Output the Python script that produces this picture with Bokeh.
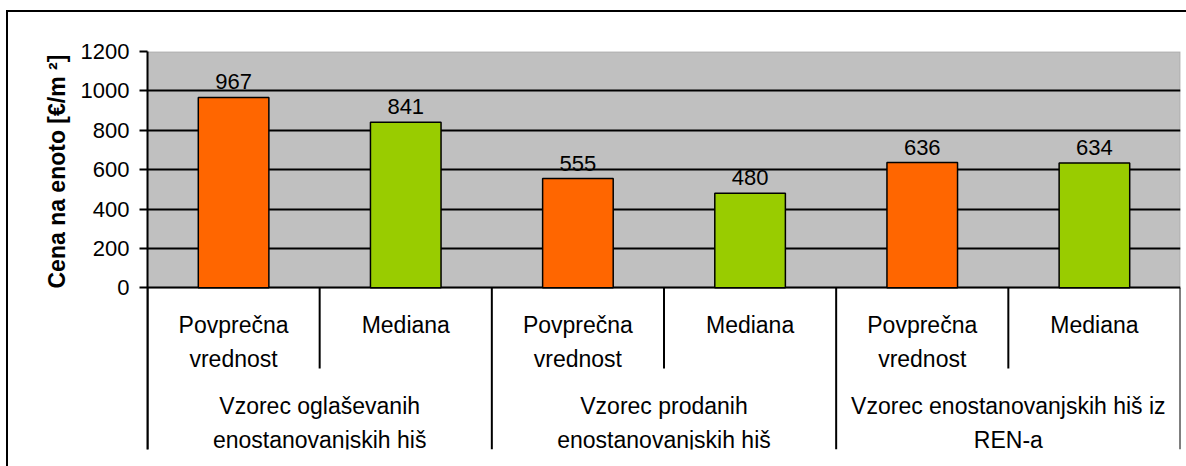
from bokeh.plotting import figure
from bokeh.models import FactorRange, Range1d, FixedTicker, ColumnDataSource, Title, BoxAnnotation, InlineStyleSheet
from bokeh.transform import factor_cmap
from bokeh.core.properties import value
from bokeh.embed import file_html
from bokeh.resources import INLINE

# ---- data ----
groups = [
    "Vzorec oglaševanih\nenostanovanjskih hiš",
    "Vzorec prodanih\nenostanovanjskih hiš",
    "Vzorec enostanovanjskih hiš iz\nREN-a",
]
measures = ["Povprečna\nvrednost", "Mediana"]
values = [967, 841, 555, 480, 636, 634]
bar_colors = ["#FF6600", "#99CC00"]
y_ticks = [0, 200, 400, 600, 800, 1000, 1200]
y_label = "Cena na enoto [€/m ²]"

FONT = "Liberation Sans"
factors = [(g, m) for g in groups for m in measures]

src = ColumnDataSource(data=dict(
    x=factors,
    values=values,
    labels=[str(v) for v in values],
))

y_top = y_ticks[-1]
y_bottom = -821          # extra room below zero for the category labels
sub_sep_bottom = -410

p = figure(
    width=1186, height=466,
    x_range=FactorRange(*factors, group_padding=0, factor_padding=0, range_padding=0),
    y_range=Range1d(y_bottom, y_top),
    output_backend="svg", toolbar_location=None,
    min_border_left=147, min_border_right=6, min_border_top=51, min_border_bottom=17,
)
p.title.visible = False
p.outline_line_color = None
p.background_fill_color = "white"
p.border_fill_color = "white"

# outer chart border (runs off the right and bottom edges, as in the original)
p.stylesheets = [InlineStyleSheet(css="""
:host { position: relative; overflow: hidden; }
:host::after {
  content: "";
  position: absolute;
  left: 6px; top: 10px; right: -10px; bottom: -10px;
  border: 2px solid black;
  pointer-events: none;
  z-index: 10;
}
""")]

# gray plot area
p.add_layout(BoxAnnotation(bottom=0, top=y_top, fill_color="#C0C0C0", fill_alpha=1.0,
                           line_color="#808080", line_width=2, level="image"))

# grid
p.xgrid.visible = False
p.ygrid.ticker = FixedTicker(ticks=y_ticks[:-1])
p.ygrid.grid_line_color = "black"
p.ygrid.grid_line_width = 2

# bars
p.vbar(x="x", top="values", width=0.41, source=src,
       fill_color=factor_cmap("x", palette=bar_colors, factors=measures, start=1, end=2),
       line_color="black", line_width=1.5)

# value labels
p.text(x="x", y="values", text="labels", source=src, y_offset=-8,
       text_align="center", text_baseline="bottom",
       text_font=value(FONT), text_font_size="22px", text_color="black")

# category labels
p.text(x=factors, y=[0] * len(factors), text=[m for g in groups for m in measures],
       y_offset=24, text_align="center", text_baseline="top", text_line_height=1.32,
       text_font=value(FONT), text_font_size="23px", text_color="black")
p.text(x=groups, y=[0] * len(groups), text=groups,
       y_offset=105, text_align="center", text_baseline="top", text_line_height=1.32,
       text_font=value(FONT), text_font_size="23px", text_color="black")

# separators
grp_x = [(g, -1) for g in groups] + [(groups[-1], 1)]
p.segment(x0=grp_x, y0=[0] * len(grp_x), x1=grp_x, y1=[y_bottom] * len(grp_x),
          line_color="black", line_width=2)
sub_x = [(g, 0) for g in groups]
p.segment(x0=sub_x, y0=[0] * len(sub_x), x1=sub_x, y1=[sub_sep_bottom] * len(sub_x),
          line_color="black", line_width=2)

# axes
p.xaxis.visible = False
ax = p.yaxis[0]
ax.ticker = FixedTicker(ticks=y_ticks)
ax.major_tick_out = 8
ax.major_tick_in = 0
ax.minor_tick_out = 0
ax.minor_tick_in = 0
ax.axis_line_width = 2
ax.major_tick_line_width = 2
ax.major_label_standoff = 10
ax.major_label_text_font = FONT
ax.major_label_text_font_size = "22px"
ax.major_label_text_color = "black"

p.add_layout(Title(text=y_label, text_font=FONT, text_font_size="23px",
                   text_font_style="bold", text_color="black",
                   align="left", offset=161, standoff=16), "left")

open("out.html", "w").write(file_html(p, INLINE))
